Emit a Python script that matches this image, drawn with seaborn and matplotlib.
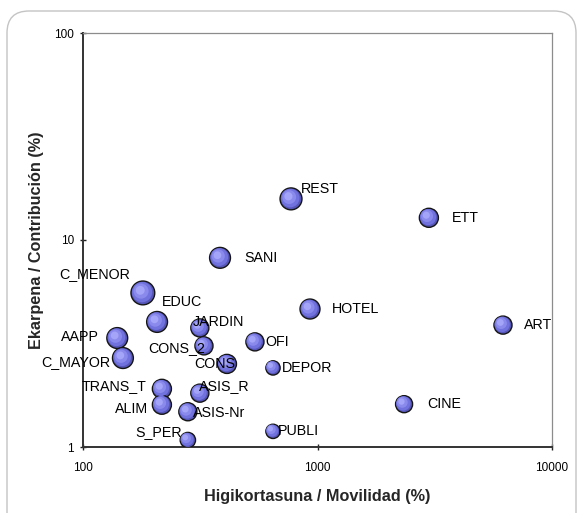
import numpy as np
import pandas as pd
import matplotlib
matplotlib.use("Agg")
import matplotlib.pyplot as plt
import seaborn as sns
from matplotlib.patches import FancyBboxPatch
from matplotlib.transforms import ScaledTranslation, IdentityTransform
from matplotlib.ticker import FixedLocator, NullLocator, FixedFormatter

# ---------------- data ----------------
sectores = ["REST", "ETT", "SANI", "C_MENOR", "EDUC", "JARDIN", "AAPP", "CONS_2",
            "OFI", "C_MAYOR", "CONS", "DEPOR", "HOTEL", "ART", "TRANS_T", "ASIS_R",
            "ALIM", "ASIS-Nr", "CINE", "S_PER", "PUBLI"]
movilidad = [771, 2985, 384, 180, 207, 315, 140, 328,
             541, 148, 411, 646, 929, 6180, 217, 315,
             217, 280, 2340, 280, 646]
contribucion = [15.8, 12.8, 8.2, 5.55, 4.02, 3.76, 3.36, 3.08,
                3.22, 2.69, 2.52, 2.41, 4.64, 3.88, 1.91, 1.82,
                1.60, 1.48, 1.61, 1.08, 1.19]
burbuja = [5.3, 4.0, 4.8, 6.25, 4.8, 3.6, 4.8, 3.6,
           3.6, 4.8, 4.0, 2.25, 4.4, 3.6, 4.0, 3.6,
           4.0, 3.6, 3.2, 2.6, 2.25]
x_ticks = [100, 1000, 10000]
y_ticks = [1, 10, 100]
x_title = "Higikortasuna / Movilidad (%)"
y_title = "Ekarpena / Contribución (%)"

# label placement (layout only): ha, dx px, dy px (down positive)
label_pos = {
    "REST": ("left", 10, -10), "ETT": ("left", 23, 0), "SANI": ("left", 24, 0),
    "C_MENOR": ("right", -13, -19), "EDUC": ("left", 5, -20), "JARDIN": ("left", -7, -6),
    "AAPP": ("right", -18, -1), "CONS_2": ("right", 1, 2), "OFI": ("left", 10, 0),
    "C_MAYOR": ("right", -13, 4), "CONS": ("right", 8, 0), "DEPOR": ("left", 9, 0),
    "HOTEL": ("left", 22, 0), "ART": ("left", 21, 0), "TRANS_T": ("right", -15, -3),
    "ASIS_R": ("left", -1, -7), "ALIM": ("right", -14, 4), "ASIS-Nr": ("left", 5, 1),
    "CINE": ("left", 23, 0), "S_PER": ("right", -6, -8), "PUBLI": ("left", 5, 0),
}

df = pd.DataFrame({"sector": sectores, "mov": movilidad, "con": contribucion, "b": burbuja})

sns.set_theme(style="white")
plt.rcParams["font.family"] = ["Liberation Sans", "DejaVu Sans"]

W, H = 577, 513
fig = plt.figure(figsize=(W / 100, H / 100), dpi=100)
fig.patch.set_facecolor("white")

# rounded frame
frame = FancyBboxPatch((7, -40), 569, H - 10 + 40 - 1,
                       boxstyle="round,pad=0,rounding_size=22",
                       transform=IdentityTransform(), facecolor="none",
                       edgecolor="#c4c4c4", linewidth=1.0, zorder=0)
fig.patches.append(frame)

L, R, T, B = 83, 552, 33, 447
ax = fig.add_axes([L / W, 1 - B / H, (R - L) / W, (B - T) / H])
ax.set_xscale("log")
ax.set_yscale("log")
ax.set_facecolor("none")

layers = [
    (1.00, "#5656B8", 0.0, 0.0, "#151515", 1.0),
    (0.72, "#7272DE", -0.8, 0.8, "none", 0),
    (0.40, "#8A8AEC", -1.8, 1.8, "none", 0),
    (0.14, "#A4A4F8", -2.6, 2.6, "none", 0),
]
for scale, col, dx, dy, ec, lw in layers:
    sns.scatterplot(data=df, x="mov", y="con", size="b", sizes=(0, 470 * scale),
                    size_norm=(0, 10), color=col, edgecolor=ec, linewidth=lw,
                    legend=False, ax=ax, zorder=3)
    coll = ax.collections[-1]
    coll.set_offset_transform(ax.transData + ScaledTranslation(dx / 100, dy / 100, fig.dpi_scale_trans))

for s, xv, yv in zip(sectores, movilidad, contribucion):
    ha, dx, dy = label_pos[s]
    ax.annotate(s, (xv, yv), xytext=(dx, -dy), textcoords="offset pixels",
                ha=ha, va="center", fontsize=10.3, color="black", zorder=5)

ax.set_xlim(100, 10000)
ax.set_ylim(1, 100)
ax.xaxis.set_major_locator(FixedLocator(x_ticks))
ax.yaxis.set_major_locator(FixedLocator(y_ticks))
ax.xaxis.set_major_formatter(FixedFormatter([str(v) for v in x_ticks]))
ax.yaxis.set_major_formatter(FixedFormatter([str(v) for v in y_ticks]))
ax.xaxis.set_minor_locator(NullLocator())
ax.yaxis.set_minor_locator(NullLocator())
ax.tick_params(axis="both", which="major", direction="inout", length=5, width=1,
               color="#222222", labelsize=8.5, labelcolor="black",
               bottom=True, left=True)
ax.tick_params(axis="x", pad=8)
ax.tick_params(axis="y", pad=4)
ax.set_xlabel("")
ax.set_ylabel("")
ax.grid(False)

for side in ["left", "bottom"]:
    ax.spines[side].set_color("#333333")
    ax.spines[side].set_linewidth(1.4)
for side in ["top", "right"]:
    ax.spines[side].set_color("#8c8c8c")
    ax.spines[side].set_linewidth(0.9)

fig.text((L + R) / 2 / W, 1 - 496 / H, x_title, ha="center", va="center",
         fontsize=11.7, fontweight="bold")
fig.text(37 / W, 1 - (T + B) / 2 / H, y_title, ha="center", va="center",
         rotation=90, fontsize=11.7, fontweight="bold")

fig.savefig("out.png", dpi=100)
